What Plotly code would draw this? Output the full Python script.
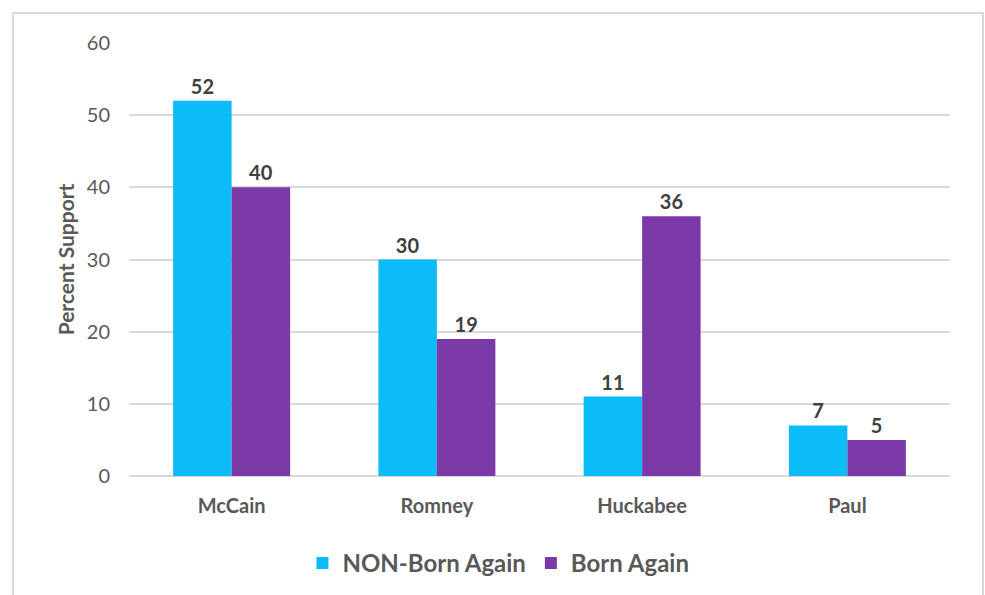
import plotly.graph_objects as go

# Candidate support by religious identification
candidates = ["McCain", "Romney", "Huckabee", "Paul"]
non_born_again = [52, 30, 11, 7]
born_again = [40, 19, 36, 5]
y_ticks = [0, 10, 20, 30, 40, 50, 60]

CYAN = "#0BBCF9"
PURPLE = "#7A39A7"
TEXT = "#595959"
LABEL = "#404040"
FONT = "Lato, 'Open Sans', sans-serif"

fig = go.Figure()
for name, vals, color in [("NON-Born Again", non_born_again, CYAN),
                          ("Born Again", born_again, PURPLE)]:
    fig.add_trace(go.Bar(
        name=name, x=candidates, y=vals,
        marker=dict(color=color, line=dict(width=0)),
        text=[str(v) for v in vals], textposition="outside",
        textfont=dict(family=FONT, size=20, color=LABEL, weight="bold"),
        cliponaxis=False,
    ))

W, H = 985, 595
L, R, T, B = 129, 35, 43, 119
pw, ph = W - L - R, H - T - B

fig.update_layout(
    width=W, height=H,
    margin=dict(l=L, r=R, t=T, b=B, autoexpand=False),
    paper_bgcolor="white", plot_bgcolor="white",
    barmode="group", bargap=0.43, bargroupgap=0,
    font=dict(family=FONT, color=TEXT),
    showlegend=True,
    legend=dict(orientation="h", x=0.45, xanchor="center", y=-0.15, yanchor="top",
                font=dict(size=24, color=TEXT, weight="bold"),
                itemwidth=30, traceorder="normal"),
    shapes=[dict(type="rect", xref="paper", yref="paper",
                 x0=(13 - L) / pw, x1=(983 - L) / pw,
                 y0=(T + ph - 610) / ph, y1=(T + ph - 13) / ph,
                 line=dict(color="#D9D9D9", width=2), fillcolor="rgba(0,0,0,0)",
                 layer="below")],
)
fig.update_xaxes(showline=False, showgrid=False, ticks="", automargin=False,
                 ticklabelstandoff=16,
                 tickfont=dict(size=20, color=TEXT, weight="bold"))
fig.update_yaxes(range=[0, 60], tickvals=y_ticks, showline=False, automargin=False,
                 gridcolor="#D9D9D9", gridwidth=2, zeroline=True,
                 zerolinecolor="#D9D9D9", zerolinewidth=2, ticks="",
                 ticklabelstandoff=18,
                 tickfont=dict(size=20, color=TEXT),
                 title=dict(text="Percent Support", standoff=6,
                            font=dict(size=21, color=TEXT, weight="bold")))

fig.write_html("out.html")
